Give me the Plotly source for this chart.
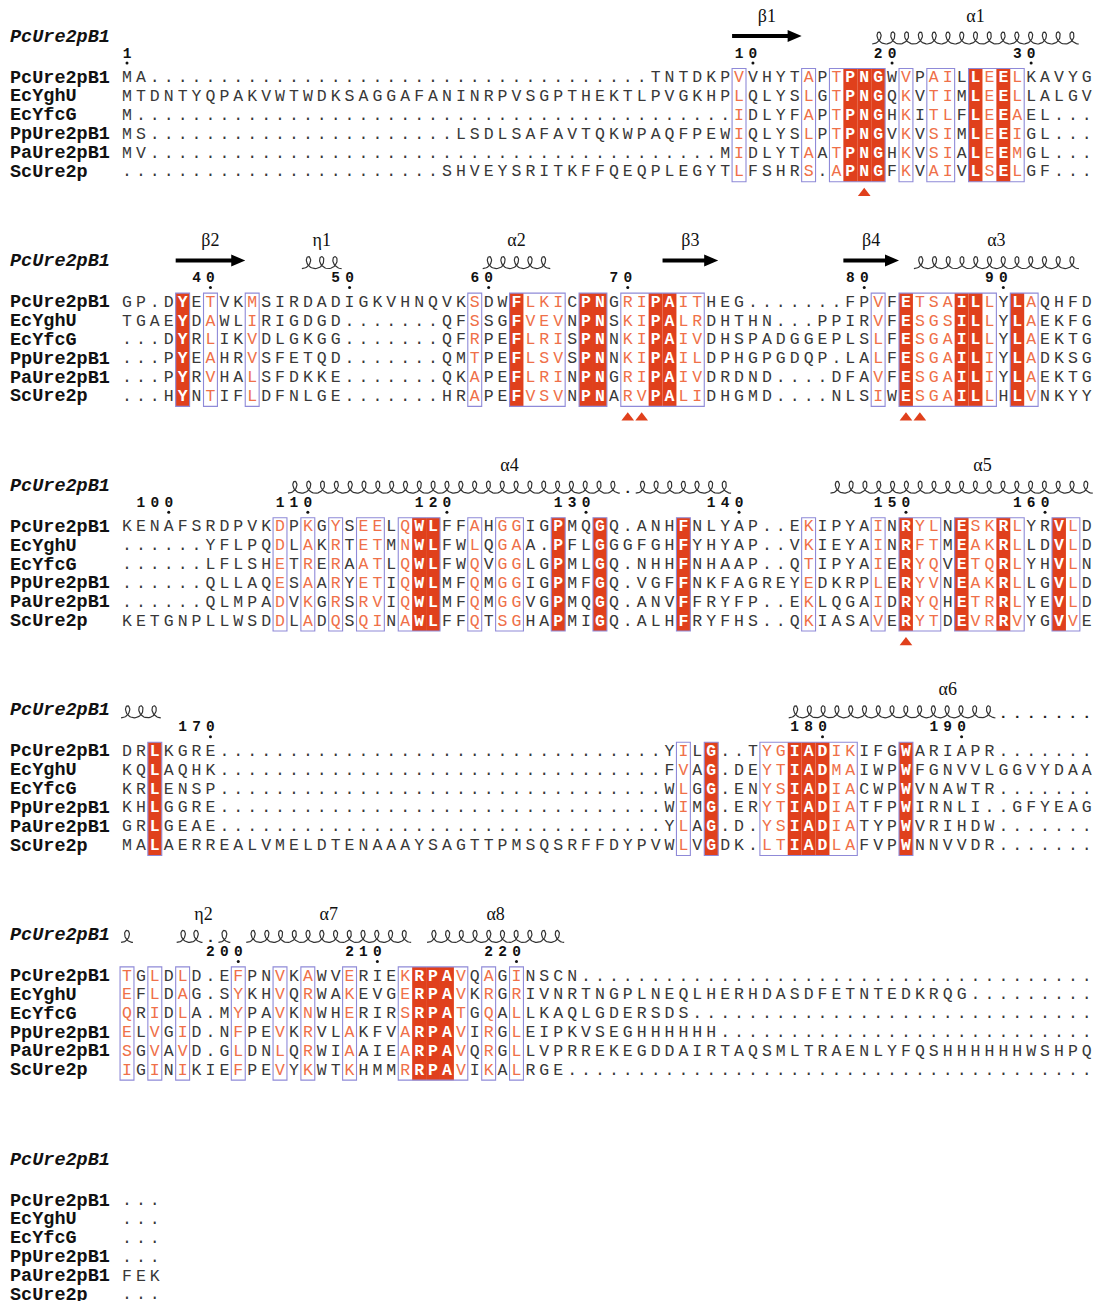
import plotly.graph_objects as go
import numpy as np

# ---------------- data ----------------
seq_names = ["PcUre2pB1", "EcYghU", "EcYfcG", "PpUre2pB1", "PaUre2pB1", "ScUre2p"]
ref_label = "PcUre2pB1"

block1 = [
    "MA" + "." * 36 + "TNTDKPVVHYTAPTPNGWVPAILLEELKAVYG",
    "MTDNTYQPAKVWTWDKSAGGAFANINRPVSGPTHEKTLPVGKHPLQLYSLGTPNGQKVTIMLEELLALGV",
    "M" + "." * 43 + "IDLYFAPTPNGHKITLFLEEAEL" + "...",
    "MS" + "." * 22 + "LSDLSAFAVTQKWPAQFPEW" + "IQLYSLPTPNGVKVSIMLEEIGL" + "...",
    "MV" + "." * 41 + "MIDLYTAATPNGHKVSIALEEMGL" + "...",
    "." * 23 + "SHVEYSRITKFFQEQPLEGYT" + "LFSHRS.APNGFKVAIVLSELGF" + "...",
]
block2 = [
    "GP.DYETVKMSIRDADIGKVHNQVKSDWFLKICPNGRIPAITHEG" + "." * 7 + "FPVFETSAILLYLAQHFD",
    "TGAEYDAWLIRIGDGD" + "." * 7 + "QFSSGFVEVNPNSKIPALRDHTHN" + "..." + "PPIRVFESGSILLYLAEKFG",
    "...DYRLIKVDLGKGG" + "." * 7 + "QFRPEFLRISPNNKIPAIVDHSPADGGEPLSLFESGAILLYLAEKTG",
    "...PYEAHRVSFETQD" + "." * 7 + "QMTPEFLSVSPNNKIPAILDPHGPGDQP.LALFESGAILIYLADKSG",
    "...PYRVHALSFDKKE" + "." * 7 + "QKAPEFLRINPNGRIPAIVDRDND" + "...." + "DFAVFESGAILIYLAEKTG",
    "...HYNTIFLDFNLGE" + "." * 7 + "HRAPEFVSVNPNARVPALIDHGMD" + "...." + "NLSIWESGAILLHLVNKYY",
]
block3 = [
    "KENAFSRDPVKDPKGYSEELQWLFFAHGGIGPMQGQ.ANHFNLYAP..EKIPYAINRYLNESKRLYRVLD",
    "." * 6 + "YFLPQDLAKRTETMNWLFWLQGAA.PFLGGGFGHFYHYAP..VKIEYAINRFTMEAKRLLDVLD",
    "." * 6 + "LFLSHETRERAATLQWLFWQVGGLGPMLGQ.NHHFNHAAP..QTIPYAIERYQVETQRLYHVLN",
    "." * 6 + "QLLAQESAARYETIQWLMFQMGGIGPMFGQ.VGFFNKFAGREYEDKRPLERYVNEAKRLLGVLD",
    "." * 6 + "QLMPADVKGRSRVIQWLMFQMGGVGPMQGQ.ANVFFRYFP..EKLQGAIDRYQHETRRLYEVLD",
    "KETGNPLLWSDDLADQSQINAWLFFQTSGHAPMIGQ.ALHFRYFHS..QKIASAVERYTDEVRRVYGVVE",
]
block4 = [
    "DRLKGRE" + "." * 32 + "YILG..TYGIADIKIFGWARIAPR" + "." * 7,
    "KQLAQHK" + "." * 32 + "FVAG.DEYTIADMAIWPWFGNVVLGGVYDAA",
    "KRLENSP" + "." * 32 + "WLGG.ENYSIADIACWPWVNAWTR" + "." * 7,
    "KHLGGRE" + "." * 32 + "WIMG.ERYTIADIATFPWIRNLI..GFYEAG",
    "GRLGEAE" + "." * 32 + "YLAG.D.YSIADIATYPWVRIHDW" + "." * 7,
    "MALAERREALVMELDTENAAAYSAGTTPMSQSRFFDYPVWLVGDK.LTIADLAFVPWNNVVDR" + "." * 7,
]
block5 = [
    "TGLDLD.EFPNVKAWVERIEKRPAVQAGINSCN" + "." * 37,
    "EFLDAG.SYKHVQRWAKEVGERPAVKRGRIVNRTNGPLNEQLHERHDASDFETNTEDKRQG" + "." * 9,
    "QRIDLA.MYPAVKNWHERIRSRPATGQALLKAQLGDERSDS" + "." * 29,
    "ELVGID.NFPEVKRVLAKFVARPAVIRGLEIPKVSEGHHHHHH" + "." * 27,
    "SGVAVD.GLDNLQRWIAAIEARPAVQRGLLVPRREKEGDDAIRTAQSMLTRAENLYFQSHHHHHHWSHPQ",
    "IGINIKIEFPEVYKWTKHMMRRPAVIKALRGE" + "." * 38,
]
block6 = ["...", "...", "...", "...", "FEK", "..."]
blocks = [block1, block2, block3, block4, block5, block6]

# similarity frames (column ranges within each block) and strictly identical columns
frames = [
    [(44, 44), (49, 49), (51, 54), (56, 56), (58, 59), (61, 64)],
    [(4, 4), (6, 6), (9, 9), (25, 25), (28, 31), (33, 34), (36, 41), (54, 54), (56, 62), (64, 65)],
    [(11, 11), (13, 13), (15, 15), (17, 18), (20, 22), (25, 25), (27, 28), (31, 31), (34, 34),
     (40, 40), (49, 49), (54, 54), (56, 58), (60, 64), (67, 68)],
    [(2, 2), (40, 40), (42, 42), (46, 52), (56, 56)],
    [(0, 0), (2, 2), (4, 4), (8, 8), (11, 11), (13, 13), (16, 16), (20, 24), (26, 26), (28, 28)],
    [],
]
identical_cols = [
    [52, 53, 54, 61, 63],
    [4, 28, 33, 34, 38, 39, 56, 60, 61, 64],
    [21, 22, 31, 34, 40, 56, 60, 63, 67],
    [2, 42, 48, 49, 50, 56],
    [21, 22, 23],
    [],
]

# marked sites (red triangles): block index, column
site_block = [0, 1, 1, 1, 1, 2]
site_col = [53, 36, 37, 56, 57, 56]

# secondary structure of PcUre2pB1 (global alignment columns)
ss_labels = ["β1", "α1", "β2", "η1", "α2", "β3", "β4", "α3", "α4", "α5", "α6", "η2", "α7", "α8"]
ss_kinds = ["E", "H", "E", "H", "H", "E", "E", "H", "H", "H", "H", "H", "H", "H"]
ss_start = [44, 54, 74, 83, 96, 109, 122, 127, 152, 191, 258, 284, 289, 302]
ss_end = [48, 68, 78, 85, 100, 112, 125, 138, 183, 212, 280, 287, 300, 311]

# ---------------- geometry / style ----------------
W, H = 1095, 1301
X0, DX = 127.0, 13.91
Y0, BLOCK_H, ROW_H = 78.0, 224.6, 18.85
BLOCK_LEN = 70
MONO = "Liberation Mono, Courier New, monospace"
SERIF = "Liberation Serif, Times New Roman, serif"
RED = "#e0401c"
ORANGE = "#ef7049"
FRAME = "#8f8ad8"
GREY = "#383838"


def cx(c):
    return X0 + DX * c


def row_y(b, r):
    return Y0 + BLOCK_H * b + ROW_H * r


for b, blk in enumerate(blocks[:-1]):
    for s in blk:
        assert len(s) == BLOCK_LEN, (b, s, len(s))

fig = go.Figure()
shapes = []

# residue cells
nx, ny, nt = [], [], []
sx, sy, st = [], [], []
ix, iy, it = [], [], []
for b, blk in enumerate(blocks):
    top = row_y(b, 0) - 9.5
    bot = row_y(b, 5) + 9.5
    for c in identical_cols[b]:
        shapes.append(dict(type="rect", xref="x", yref="y", x0=cx(c) - DX / 2, x1=cx(c) + DX / 2,
                           y0=top, y1=bot, fillcolor=RED, line=dict(width=0), layer="below"))
    for (c0, c1) in frames[b]:
        shapes.append(dict(type="rect", xref="x", yref="y", x0=cx(c0) - DX / 2, x1=cx(c1) + DX / 2,
                           y0=top, y1=bot, fillcolor="rgba(0,0,0,0)",
                           line=dict(color=FRAME, width=1.1), layer="below"))
    framed = set()
    for (c0, c1) in frames[b]:
        framed.update(range(c0, c1 + 1))
    for r, s in enumerate(blk):
        for c, ch in enumerate(s):
            if c in identical_cols[b]:
                ix.append(cx(c)); iy.append(row_y(b, r)); it.append(ch)
            elif c in framed and ch != ".":
                sx.append(cx(c)); sy.append(row_y(b, r)); st.append(ch)
            else:
                nx.append(cx(c)); ny.append(row_y(b, r)); nt.append(ch)


def text_trace(xs, ys, ts, color, size=16.5, weight="normal", style="normal", family=MONO,
               pos="middle center"):
    return go.Scatter(x=xs, y=ys, text=ts, mode="text", textposition=pos,
                      textfont=dict(family=family, size=size, color=color, weight=weight, style=style),
                      hoverinfo="skip", showlegend=False)


fig.add_trace(text_trace(nx, ny, nt, GREY))
fig.add_trace(text_trace(sx, sy, st, ORANGE))
fig.add_trace(text_trace(ix, iy, it, "white", weight="bold"))

# sequence names and block headers
name_x, name_y, name_t = [], [], []
head_x, head_y, head_t = [], [], []
for b in range(len(blocks)):
    head_x.append(10); head_y.append(row_y(b, 0) - 41); head_t.append(ref_label)
    for r, nm in enumerate(seq_names):
        name_x.append(10); name_y.append(row_y(b, r)); name_t.append(nm)
fig.add_trace(text_trace(name_x, name_y, name_t, "#111111", size=18.5, weight="bold", pos="middle right"))
fig.add_trace(text_trace(head_x, head_y, head_t, "#111111", size=18.5, weight="bold", style="italic",
                         pos="middle right"))

# residue numbering of the reference sequence
num_x, num_y, num_t = [], [], []
dot_x, dot_y = [], []
resnum = 0
for b, blk in enumerate(blocks):
    for c, ch in enumerate(blk[0]):
        if ch == ".":
            continue
        resnum += 1
        if resnum == 1 or resnum % 10 == 0:
            digits = str(resnum)
            for k, d in enumerate(reversed(digits)):
                num_x.append(cx(c - k)); num_y.append(row_y(b, 0) - 24); num_t.append(d)
            dot_x.append(cx(c)); dot_y.append(row_y(b, 0) - 15)
fig.add_trace(text_trace(num_x, num_y, num_t, "#111111", size=14.5, weight="bold"))
fig.add_trace(go.Scatter(x=dot_x, y=dot_y, mode="markers",
                         marker=dict(symbol="circle", size=3, color="#111111"),
                         hoverinfo="skip", showlegend=False))

# secondary structure
coil_x, coil_y = [], []
gapdot_x, gapdot_y = [], []
lab_x, lab_y, lab_t = [], [], []
ref_full = "".join(blk[0] for blk in blocks)
for name, kind, s, e in zip(ss_labels, ss_kinds, ss_start, ss_end):
    g = (s + e) / 2.0
    bl = int(g // BLOCK_LEN)
    lab_x.append(cx(g - bl * BLOCK_LEN)); lab_y.append(row_y(bl, 0) - 61); lab_t.append(name)
    for b in range(len(blocks)):
        lo = max(s, b * BLOCK_LEN)
        hi = min(e, b * BLOCK_LEN + BLOCK_LEN - 1)
        if lo > hi:
            continue
        y1 = row_y(b, 0)
        if kind == "E":
            xl = cx(lo - b * BLOCK_LEN) - DX / 2
            xr = cx(hi - b * BLOCK_LEN) + DX / 2
            ya = y1 - 42
            hl = 14
            path = (f"M {xl},{ya - 2} L {xr - hl},{ya - 2} L {xr - hl},{ya - 6} L {xr},{ya} "
                    f"L {xr - hl},{ya + 6} L {xr - hl},{ya + 2} L {xl},{ya + 2} Z")
            shapes.append(dict(type="path", xref="x", yref="y", path=path, fillcolor="black",
                               line=dict(width=0), layer="above"))
        else:
            yb = y1 - 34
            runs = []
            cur = None
            for gc in range(lo, hi + 1):
                c = gc - b * BLOCK_LEN
                if ref_full[gc] == ".":
                    gapdot_x.append(cx(c)); gapdot_y.append(yb - 4)
                    if cur:
                        runs.append(cur); cur = None
                else:
                    if cur is None:
                        cur = [c, c]
                    else:
                        cur[1] = c
            if cur:
                runs.append(cur)
            for c0, c1 in runs:
                n = c1 - c0 + 1
                xl = cx(c0) - DX / 2 + 1
                xr = cx(c1) + DX / 2 - 1
                t = np.linspace(0, 2 * np.pi * n, 36 * n + 1)
                xs = xl + (xr - xl) * t / (2 * np.pi * n) + 5.0 * np.sin(t)
                ys = yb - 12 * (1 - np.cos(t)) / 2
                coil_x.extend(xs.tolist() + [None]); coil_y.extend(ys.tolist() + [None])

fig.add_trace(go.Scatter(x=coil_x, y=coil_y, mode="lines", line=dict(color="#333333", width=1.2),
                         hoverinfo="skip", showlegend=False))
fig.add_trace(text_trace(gapdot_x, gapdot_y, ["."] * len(gapdot_x), "#222222", size=15, weight="bold"))
fig.add_trace(text_trace(lab_x, lab_y, lab_t, "#111111", size=18, family=SERIF))

# marked sites
fig.add_trace(go.Scatter(x=[cx(c) for c in site_col], y=[row_y(b, 5) + 21 for b in site_block],
                         mode="markers", marker=dict(symbol="triangle-up", size=11, color=RED),
                         hoverinfo="skip", showlegend=False))

fig.update_layout(
    width=W, height=H, margin=dict(l=0, r=0, t=0, b=0),
    paper_bgcolor="white", plot_bgcolor="white", shapes=shapes, showlegend=False,
    xaxis=dict(range=[0, W], visible=False, fixedrange=True),
    yaxis=dict(range=[H, 0], visible=False, fixedrange=True),
)
fig.write_html("out.html", config={"displayModeBar": False},
               post_script="document.body.style.margin='0';document.body.style.overflow='hidden';")
